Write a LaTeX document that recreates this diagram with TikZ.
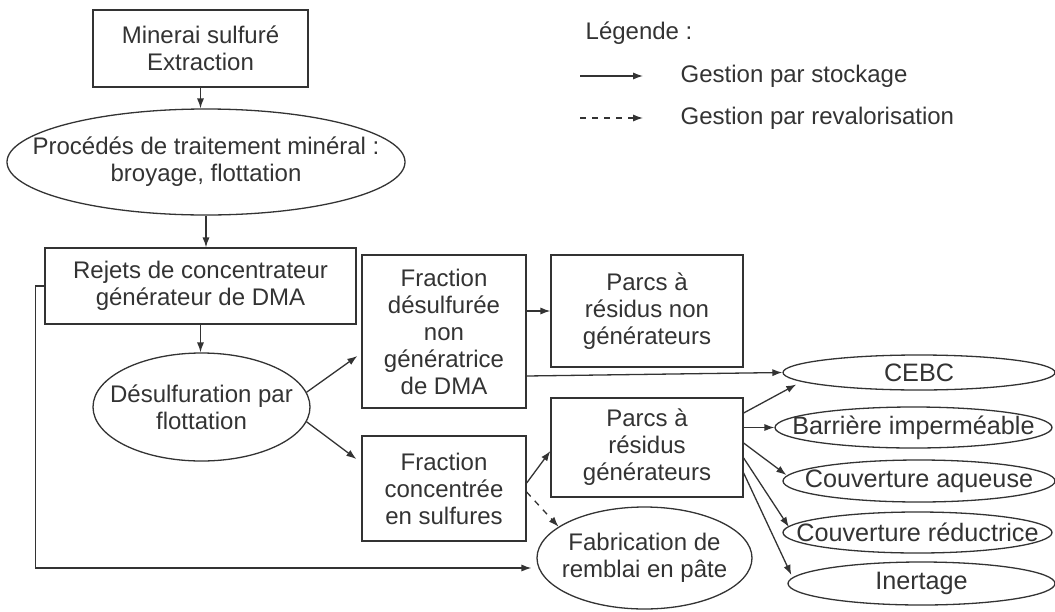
\documentclass[tikz,border=0pt]{standalone}
\usepackage{fontspec}
\setmainfont{Liberation Sans}
\usepackage{xcolor}
\usetikzlibrary{arrows.meta,calc,positioning,shapes.geometric}

\definecolor{gris}{HTML}{333333}
\tikzset{
  boite/.style={draw, rectangle, align=center, inner sep=0pt},
  bulle/.style={draw, ellipse, inner sep=0pt},
  texte/.style={label={[align=center]center:#1}},
  mode/.style={bulle, label={[font=\fontsize{12.6}{14}\selectfont]center:#1}},
  fleche/.style={-{Latex[length=5pt,width=3.6pt]}},
}

\begin{document}
\begin{tikzpicture}[x=0.5pt,y=-0.5pt,line width=0.65pt,color=gris,font=\fontsize{12}{13.5}\selectfont]
		\useasboundingbox (0,0) rectangle (1055,611);
		% chaine principale
		\node[boite, minimum width=107.5pt, minimum height=38.5pt] (minerai) at (200.5,48.5) {Minerai sulfuré\\Extraction};
		\node[bulle, minimum width=199pt, minimum height=53pt, texte={Procédés de traitement minéral :\\broyage, flottation}] (procedes) at (206,162) {};
		\node[boite, minimum width=155.5pt, minimum height=38pt] (rejets) at (200.5,286) {Rejets de concentrateur\\générateur de DMA};
		\node[bulle, minimum width=108.5pt, minimum height=54pt, texte={Désulfuration par\\flottation}] (desulf) at (201.5,407) {};
		\node[boite, minimum width=82pt, minimum height=76.5pt] (fracnon) at (444,331.5) {Fraction\\désulfurée\\non\\génératrice\\de DMA};
		\node[boite, minimum width=82pt, minimum height=52.5pt] (fracconc) at (444,488.5) {Fraction\\concentrée\\en sulfures};
		\node[boite, minimum width=96pt, minimum height=56pt] (parcsnon) at (647,311) {Parcs à\\résidus non\\générateurs};
		\node[boite, minimum width=96pt, minimum height=49.5pt] (parcsgen) at (647,447.5) {Parcs à\\résidus\\générateurs};
		\node[bulle, minimum width=107.5pt, minimum height=51pt, texte={Fabrication de\\remblai en pâte}] (fabric) at (644.5,558) {};
		% modes de gestion
		\node[mode=CEBC, minimum width=136pt, minimum height=17.5pt] (cebc) at (919,372.5) {};
		\node[mode=Barrière imperméable, minimum width=138.5pt, minimum height=20.5pt] (barriere) at (913.5,427.5) {};
		\node[mode=Couverture aqueuse, minimum width=136pt, minimum height=21pt] (aqueuse) at (919,481) {};
		\node[mode=Couverture réductrice, minimum width=134.5pt, minimum height=20.5pt] (reductrice) at (917.5,532.5) {};
		\node[mode=Inertage, minimum width=133.5pt, minimum height=21.5pt] (inertage) at (921.5,583.5) {};
		% legende
		\node[anchor=west, inner sep=0pt] (legende) at (585,33) {Légende :};
		\node[anchor=west, inner sep=0pt] (stockage) at (680,76) {Gestion par stockage};
		\node[anchor=west, inner sep=0pt] (revalo) at (680,118) {Gestion par revalorisation};
		\coordinate (sa) at (580,76);
		\coordinate (sb) at (643,76);
		\coordinate (ra) at (580,118);
		\coordinate (rb) at (643,118);
		\draw[fleche] (sa) -- (sb);
		\draw[fleche, dashed] (ra) -- (rb);
		% fleches
		\draw[fleche] (minerai) -- (minerai |- procedes.north);
		\draw[fleche] (procedes) -- (procedes |- rejets.north);
		\draw[fleche] (rejets) -- (rejets |- desulf.north);
		\draw[fleche] (desulf.8) -- ($(fracnon.west)+(-4,24.5)$);
		\draw[fleche] (desulf.-8) -- ($(fracconc.west)+(-5,-29.5)$);
		\draw[fleche] (fracnon.east |- parcsnon.west) -- (parcsnon.west);
		\draw[fleche] ($(fracnon.east)+(0,44.5)$) -- (cebc.west);
		\draw[fleche] ($(fracconc.east)+(0,-5.5)$) -- ($(parcsgen.west)+(0,3.5)$);
		\draw[fleche, dashed] ($(fracconc.east)+(0,3.5)$) -- (fabric.160);
		\draw[fleche] (rejets.west) -- ++(-9,0) |- ($(fabric.west)+(-5,10)$);
		\draw[fleche] ($(parcsgen.east)+(0,-34.5)$) -- ($(cebc.west)+(14,12)$);
		\draw[fleche] (parcsgen.east |- barriere.west) -- (barriere.west);
		\draw[fleche] ($(parcsgen.east)+(0,-4.5)$) -- ($(aqueuse.west)+(4,-6)$);
		\draw[fleche] ($(parcsgen.east)+(0,10.5)$) -- ($(reductrice.west)+(6.5,-5.5)$);
		\draw[fleche] ($(parcsgen.east)+(0,25.5)$) -- ($(inertage.west)+(4,-8.5)$);
\end{tikzpicture}
\end{document}
